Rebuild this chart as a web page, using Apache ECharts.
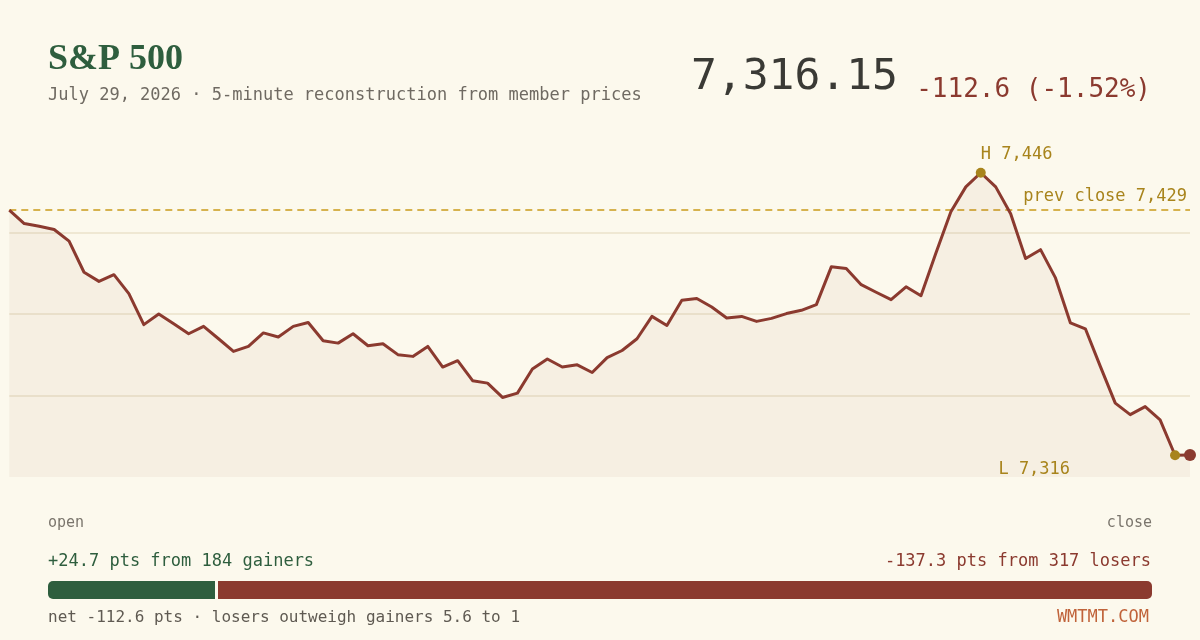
<!DOCTYPE html>
<html>
<head>
<meta charset="utf-8">
<title>S&amp;P 500 intraday</title>
<script src="https://cdn.jsdelivr.net/npm/echarts@6/dist/echarts.min.js"></script>
<style>
  html, body { margin: 0; padding: 0; background: #fcf9ed; }
  #main { width: 1200px; height: 640px; }
</style>
</head>
<body>
<div id="main"></div>
<script>
// 5 minute index levels
var levels = [
  7428.75, 7422.6, 7421.4, 7419.9, 7414.5, 7400.2, 7396.0, 7399.1, 7390.4, 7376.1,
  7381.0, 7376.5, 7371.9, 7375.3, 7369.6, 7363.8, 7366.1, 7372.3, 7370.4, 7375.3,
  7377.1, 7368.7, 7367.6, 7371.9, 7366.4, 7367.3, 7362.3, 7361.5, 7366.1, 7356.6,
  7359.5, 7350.3, 7349.2, 7342.6, 7344.6, 7355.7, 7360.3, 7356.6, 7357.6, 7354.1,
  7360.9, 7364.2, 7369.6, 7379.9, 7375.7, 7387.3, 7388.1, 7384.2, 7379.2, 7379.9,
  7377.6, 7379.0, 7381.2, 7382.7, 7385.3, 7402.7, 7401.9, 7394.5, 7391.0, 7387.6,
  7393.5, 7389.4, 7409.1, 7428.0, 7439.5, 7446.0, 7439.5, 7427.1, 7406.5, 7410.6,
  7397.6, 7376.9, 7374.2, 7356.9, 7340.0, 7334.7, 7338.4, 7332.3, 7316.0, 7316.15
];
var prevClose = 7428.75;
var netChange = -112.6;
var netPct = -1.52;

// breadth: points contributed and member counts
var gainPts = 24.7, gainCount = 184;
var losePts = 137.3, loseCount = 317;

// time labels for the x axis
var times = [];
for (var i = 0; i < levels.length; i++) {
  var m = 9 * 60 + 30 + i * 5;
  times.push(Math.floor(m / 60) + ':' + ('0' + (m % 60)).slice(-2));
}

var hiVal = Math.max.apply(null, levels);
var loVal = Math.min.apply(null, levels);
var hiIdx = levels.indexOf(hiVal);
var loIdx = levels.lastIndexOf(loVal);
var lastIdx = levels.length - 1;
var yMin = Math.round(loVal - 10);
var yMax = Math.round(hiVal + 10);

var MONO = '"DejaVu Sans Mono", "Liberation Mono", monospace';
var RED = '#8b3a2f', GREEN = '#2e5e3e', GOLD = '#a8841c', GREY = '#6f6a62';
var BG = '#fcf9ed';

function fmt(v, d) {
  return v.toLocaleString('en-US', { minimumFractionDigits: d, maximumFractionDigits: d });
}

// faint horizontal guides at the quarters of the plot
var gridLines = [];
for (var k = 1; k < 4; k++) {
  gridLines.push({
    yAxis: yMin + (yMax - yMin) * k / 4,
    lineStyle: { color: '#ebe2ca', width: 1.5, type: 'solid' },
    label: { show: false }
  });
}

function txt(text, x, y, size, color, align, family, weight) {
  return {
    type: 'text', silent: true,
    style: {
      text: text, x: x, y: y, fill: color,
      font: (weight || 'normal') + ' ' + size + 'px ' + (family || MONO),
      textAlign: align || 'left', textVerticalAlign: 'middle'
    }
  };
}

var chart = echarts.init(document.getElementById('main'));
chart.setOption({
  backgroundColor: BG,
  animation: false,
  textStyle: { fontFamily: MONO },
  grid: [
    { left: 9.3, right: 10, top: 151, bottom: 163 },
    { left: 48, right: 48, top: 581, height: 18 }
  ],
  xAxis: [
    { type: 'category', data: times, boundaryGap: false, show: false, gridIndex: 0 },
    { type: 'value', min: 0, max: gainPts + losePts, show: false, gridIndex: 1 }
  ],
  yAxis: [
    { type: 'value', min: yMin, max: yMax, show: false, splitLine: { show: false }, gridIndex: 0 },
    { type: 'category', data: ['breadth'], show: false, gridIndex: 1 }
  ],
  series: [
    {
      name: 'guides', type: 'line', data: [], z: 0, silent: true,
      markLine: { silent: true, symbol: 'none', z: 0, data: gridLines }
    },
    {
      name: 'S&P 500',
      type: 'line',
      data: levels,
      z: 3,
      symbol: 'none',
      lineStyle: { color: RED, width: 3, join: 'round' },
      areaStyle: { color: 'rgba(139,58,47,0.07)', origin: 'start' },
      markLine: {
        silent: true, symbol: 'none', z: 2,
        data: [{
          yAxis: prevClose,
          lineStyle: { color: '#d6b24e', width: 2, type: [7, 5] },
          label: {
            show: true, position: 'insideEndTop', distance: [3, 5],
            formatter: 'prev close ' + fmt(prevClose, 0),
            color: GOLD, fontFamily: MONO, fontSize: 17
          }
        }]
      },
      markPoint: {
        silent: true,
        data: [
          {
            coord: [hiIdx, hiVal], symbol: 'circle', symbolSize: 10,
            itemStyle: { color: GOLD },
            label: {
              show: true, formatter: 'H ' + fmt(hiVal, 0), position: [5, -13],
              align: 'left', verticalAlign: 'middle', color: GOLD, fontFamily: MONO, fontSize: 17
            }
          },
          {
            coord: [loIdx, loVal], symbol: 'circle', symbolSize: 10,
            itemStyle: { color: GOLD },
            label: {
              show: true, formatter: 'L ' + fmt(loVal, 0), position: [-100, 19],
              align: 'right', verticalAlign: 'middle', color: GOLD, fontFamily: MONO, fontSize: 17
            }
          },
          {
            coord: [lastIdx, levels[lastIdx]], symbol: 'circle', symbolSize: 12,
            itemStyle: { color: RED }, label: { show: false }
          }
        ]
      }
    },
    {
      name: 'gainers', type: 'bar', stack: 'breadth', xAxisIndex: 1, yAxisIndex: 1,
      data: [gainPts], barWidth: 18, silent: true,
      itemStyle: { color: GREEN, borderRadius: [5, 0, 0, 5] }
    },
    {
      name: 'losers', type: 'bar', stack: 'breadth', xAxisIndex: 1, yAxisIndex: 1,
      data: [losePts], barWidth: 18, silent: true,
      itemStyle: { color: RED, borderRadius: [0, 5, 5, 0] },
      markLine: {
        silent: true, symbol: 'none', label: { show: false },
        lineStyle: { color: BG, width: 3, type: 'solid' },
        data: [{ xAxis: gainPts }]
      }
    }
  ],
  graphic: [
    txt('S&P 500', 48, 60, 36, GREEN, 'left', '"Liberation Serif", "DejaVu Serif", serif', 'bold'),
    txt('July 29, 2026 · 5-minute reconstruction from member prices', 48, 96, 17, GREY),
    txt(fmt(levels[lastIdx], 2), 898, 78, 43, '#3a3a35', 'right'),
    txt(fmt(netChange, 1) + ' (' + fmt(netPct, 2) + '%)', 1151, 90, 26, RED, 'right'),
    txt('open', 48, 523, 15, '#7a756c'),
    txt('close', 1152, 523, 15, '#7a756c', 'right'),
    txt('+' + fmt(gainPts, 1) + ' pts from ' + gainCount + ' gainers', 48, 562, 17, GREEN),
    txt('-' + fmt(losePts, 1) + ' pts from ' + loseCount + ' losers', 1151, 562, 17, RED, 'right'),
    txt('net ' + fmt(netChange, 1) + ' pts · losers outweigh gainers ' + (losePts / gainPts).toFixed(1) + ' to 1', 48, 618, 16, '#5f5a52'),
    txt('WMTMT.COM', 1149, 618, 17, '#c0633a', 'right')
  ]
});
</script>
</body>
</html>
